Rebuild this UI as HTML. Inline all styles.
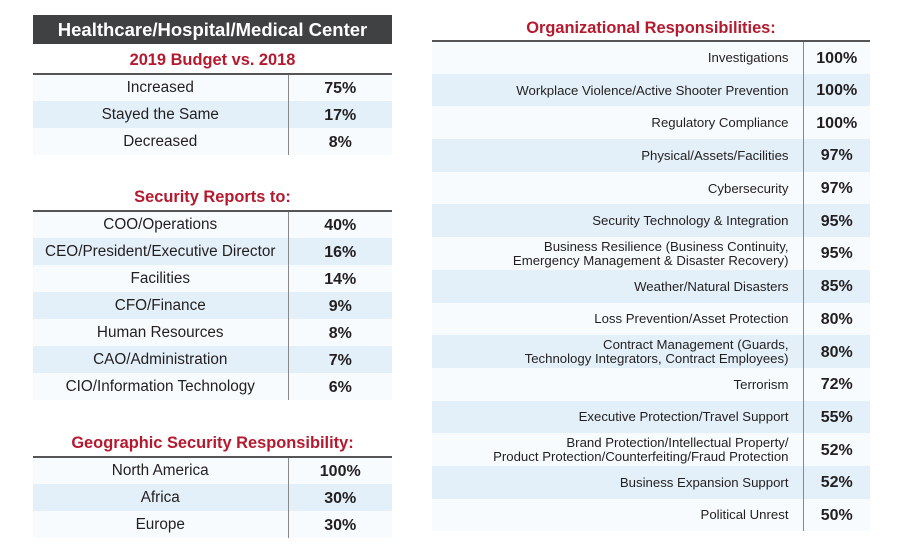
<!DOCTYPE html>
<html><head><meta charset="utf-8"><style>
*{margin:0;padding:0;box-sizing:border-box}
body{width:900px;height:550px;background:#fff;font-family:"Liberation Sans",sans-serif;position:relative;overflow:hidden;color:#231f20}
.abs{position:absolute}
.title{left:33px;top:15px;width:359px;height:29px;background:#404142;color:#fff;font-weight:bold;font-size:18.5px;text-align:center;line-height:30px}
.h{color:#b5192e;font-weight:bold;font-size:16.4px;text-align:center}
table{position:absolute;border-collapse:collapse;border-top:2px solid #555}
td{padding:0}
td.l{text-align:center;font-size:15.3px;border-right:1px solid #888}
td.v{text-align:center;font-weight:bold;font-size:16px;padding-top:2px}
tr.w td{background:#f8fbfd}
tr.s td{background:#e3f0f9}
.R td.l{text-align:right;font-size:13.2px;padding-right:14px;line-height:14px;padding-top:1px}
.R td.v{font-size:16px}
</style></head><body>
<div class="abs title">Healthcare/Hospital/Medical Center</div>
<div class="abs h" style="left:33px;top:51px;width:359px">2019 Budget vs. 2018</div>
<table style="left:33px;top:73px;width:359px">
<tr class="w" style="height:27px"><td class="l" style="width:255px">Increased</td><td class="v">75%</td></tr>
<tr class="s" style="height:27px"><td class="l">Stayed the Same</td><td class="v">17%</td></tr>
<tr class="w" style="height:27px"><td class="l">Decreased</td><td class="v">8%</td></tr>
</table>
<div class="abs h" style="left:33px;top:188px;width:359px">Security Reports to:</div>
<table style="left:33px;top:210px;width:359px">
<tr class="w" style="height:27px"><td class="l" style="width:255px">COO/Operations</td><td class="v">40%</td></tr>
<tr class="s" style="height:27px"><td class="l">CEO/President/Executive Director</td><td class="v">16%</td></tr>
<tr class="w" style="height:27px"><td class="l">Facilities</td><td class="v">14%</td></tr>
<tr class="s" style="height:27px"><td class="l">CFO/Finance</td><td class="v">9%</td></tr>
<tr class="w" style="height:27px"><td class="l">Human Resources</td><td class="v">8%</td></tr>
<tr class="s" style="height:27px"><td class="l">CAO/Administration</td><td class="v">7%</td></tr>
<tr class="w" style="height:27px"><td class="l">CIO/Information Technology</td><td class="v">6%</td></tr>
</table>
<div class="abs h" style="left:33px;top:434px;width:359px">Geographic Security Responsibility:</div>
<table style="left:33px;top:456px;width:359px">
<tr class="w" style="height:27px"><td class="l" style="width:255px">North America</td><td class="v">100%</td></tr>
<tr class="s" style="height:27px"><td class="l">Africa</td><td class="v">30%</td></tr>
<tr class="w" style="height:27px"><td class="l">Europe</td><td class="v">30%</td></tr>
</table>
<div class="abs h" style="left:432px;top:19px;width:438px">Organizational Responsibilities:</div>
<table class="R" style="left:432px;top:40px;width:438px">
<tr class="w" style="height:32.7px"><td class="l" style="width:371px">Investigations</td><td class="v">100%</td></tr>
<tr class="s" style="height:32.7px"><td class="l">Workplace Violence/Active Shooter Prevention</td><td class="v">100%</td></tr>
<tr class="w" style="height:32.7px"><td class="l">Regulatory Compliance</td><td class="v">100%</td></tr>
<tr class="s" style="height:32.7px"><td class="l">Physical/Assets/Facilities</td><td class="v">97%</td></tr>
<tr class="w" style="height:32.7px"><td class="l">Cybersecurity</td><td class="v">97%</td></tr>
<tr class="s" style="height:32.7px"><td class="l">Security Technology &amp; Integration</td><td class="v">95%</td></tr>
<tr class="w" style="height:32.7px"><td class="l">Business Resilience (Business Continuity,<br>Emergency Management &amp; Disaster Recovery)</td><td class="v">95%</td></tr>
<tr class="s" style="height:32.7px"><td class="l">Weather/Natural Disasters</td><td class="v">85%</td></tr>
<tr class="w" style="height:32.7px"><td class="l">Loss Prevention/Asset Protection</td><td class="v">80%</td></tr>
<tr class="s" style="height:32.7px"><td class="l">Contract Management (Guards,<br>Technology Integrators, Contract Employees)</td><td class="v">80%</td></tr>
<tr class="w" style="height:32.7px"><td class="l">Terrorism</td><td class="v">72%</td></tr>
<tr class="s" style="height:32.7px"><td class="l">Executive Protection/Travel Support</td><td class="v">55%</td></tr>
<tr class="w" style="height:32.7px"><td class="l">Brand Protection/Intellectual Property/<br>Product Protection/Counterfeiting/Fraud Protection</td><td class="v">52%</td></tr>
<tr class="s" style="height:32.7px"><td class="l">Business Expansion Support</td><td class="v">52%</td></tr>
<tr class="w" style="height:32.7px"><td class="l">Political Unrest</td><td class="v">50%</td></tr>
</table>
</body></html>
